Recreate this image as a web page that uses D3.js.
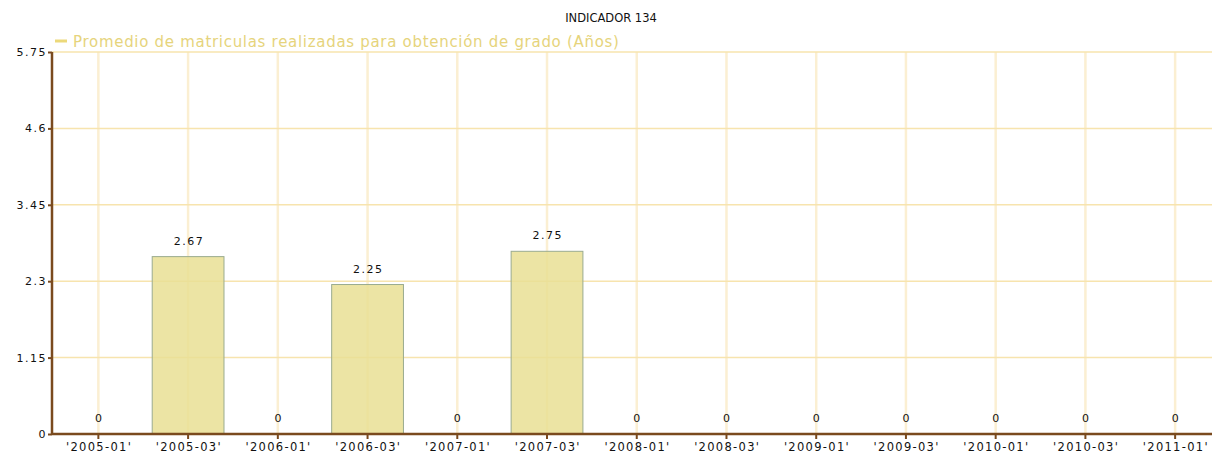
<!DOCTYPE html>
<html>
<head>
<meta charset="utf-8">
<script src="https://cdn.jsdelivr.net/npm/d3@7"></script>
<style>
  body { margin: 0; background: #fff; }
  text { font-family: "DejaVu Sans", Verdana, sans-serif; }
</style>
</head>
<body>
<svg width="1212" height="458"></svg>
<script>
var categories = ["'2005-01'", "'2005-03'", "'2006-01'", "'2006-03'", "'2007-01'", "'2007-03'",
  "'2008-01'", "'2008-03'", "'2009-01'", "'2009-03'", "'2010-01'", "'2010-03'", "'2011-01'"];
var values = [0, 2.67, 0, 2.25, 0, 2.75, 0, 0, 0, 0, 0, 0, 0];
var yTicks = [0, 1.15, 2.3, 3.45, 4.6, 5.75];
var title = "INDICADOR 134";
var seriesName = "Promedio de matriculas realizadas para obtención de grado (Años)";

var svg = d3.select("svg"),
    width = +svg.attr("width"),
    height = +svg.attr("height");

var plotLeft = 52, plotRight = 1220, plotTop = 52, plotBottom = 434;
var axisColor = "#7a4a1e";

var x = d3.scaleBand()
    .domain(categories)
    .range([plotLeft + 1.5, plotRight])
    .paddingInner(0.2)
    .paddingOuter(0.1);

var y = d3.scaleLinear()
    .domain([0, 5.75])
    .range([plotBottom, plotTop]);

function cx(d) { return x(d) + x.bandwidth() / 2; }

// grid
svg.append("g")
  .selectAll("line")
  .data(categories)
  .enter().append("line")
    .attr("x1", cx)
    .attr("x2", cx)
    .attr("y1", plotTop)
    .attr("y2", plotBottom)
    .attr("stroke", "#fbefd2")
    .attr("stroke-width", 2.5);

svg.append("g")
  .selectAll("line")
  .data(yTicks)
  .enter().append("line")
    .attr("x1", plotLeft)
    .attr("x2", width)
    .attr("y1", function(d) { return y(d); })
    .attr("y2", function(d) { return y(d); })
    .attr("stroke", "#f7e4ae")
    .attr("stroke-width", 1.5);

// bars
svg.append("g")
  .selectAll("rect")
  .data(values.map(function(v, i) { return {cat: categories[i], v: v}; })
    .filter(function(d) { return d.v > 0; }))
  .enter().append("rect")
    .attr("x", function(d) { return x(d.cat); })
    .attr("y", function(d) { return y(d.v); })
    .attr("width", x.bandwidth())
    .attr("height", function(d) { return plotBottom - y(d.v); })
    .attr("fill", "#e9df94")
    .attr("fill-opacity", 0.85)
    .attr("stroke", "#9aab8f")
    .attr("stroke-width", 1);

// value labels
svg.append("g")
  .selectAll("text")
  .data(values)
  .enter().append("text")
    .attr("x", function(d, i) { return cx(categories[i]) + 0.8; })
    .attr("y", function(d) { return y(d) - 12; })
    .attr("text-anchor", "middle")
    .attr("font-size", 11)
    .attr("letter-spacing", 1.5)
    .attr("fill", "#111")
    .text(function(d) { return d; });

// axes
var xAxis = svg.append("g")
    .attr("transform", "translate(0," + plotBottom + ")")
    .call(d3.axisBottom(x).tickSize(5).tickPadding(4));
xAxis.select(".domain").remove();
xAxis.selectAll("line").attr("stroke", axisColor).attr("stroke-width", 2);
xAxis.selectAll("text").attr("font-size", 11.5).attr("fill", "#111")
    .attr("letter-spacing", 1.3)
    .attr("dx", 0.7)
    .attr("font-family", "DejaVu Sans, Verdana, sans-serif");

var yAxis = svg.append("g")
    .attr("transform", "translate(" + plotLeft + ",0)")
    .call(d3.axisLeft(y).tickValues(yTicks).tickSize(4).tickPadding(1)
      .tickFormat(function(d) { return d; }));
yAxis.select(".domain").remove();
yAxis.selectAll("line").attr("stroke", axisColor).attr("stroke-width", 2);
yAxis.selectAll("text").attr("font-size", 11).attr("fill", "#111")
    .attr("letter-spacing", 1.5)
    .attr("font-family", "DejaVu Sans, Verdana, sans-serif");

svg.append("line")
    .attr("x1", plotLeft).attr("x2", plotLeft)
    .attr("y1", plotTop).attr("y2", plotBottom + 1)
    .attr("stroke", axisColor).attr("stroke-width", 2.5);
svg.append("line")
    .attr("x1", plotLeft).attr("x2", width)
    .attr("y1", plotBottom).attr("y2", plotBottom)
    .attr("stroke", axisColor).attr("stroke-width", 2.5);

// title
svg.append("text")
    .attr("x", 611)
    .attr("y", 22)
    .attr("text-anchor", "middle")
    .attr("font-size", 11.5)
    .attr("fill", "#111")
    .text(title);

// legend
svg.append("line")
    .attr("x1", 55).attr("x2", 67)
    .attr("y1", 41).attr("y2", 41)
    .attr("stroke", "#ecd97a").attr("stroke-width", 3);
svg.append("text")
    .attr("x", 73)
    .attr("y", 47)
    .attr("font-size", 15)
    .attr("letter-spacing", 0.7)
    .attr("fill", "#e6d47c")
    .text(seriesName);
</script>
</body>
</html>
